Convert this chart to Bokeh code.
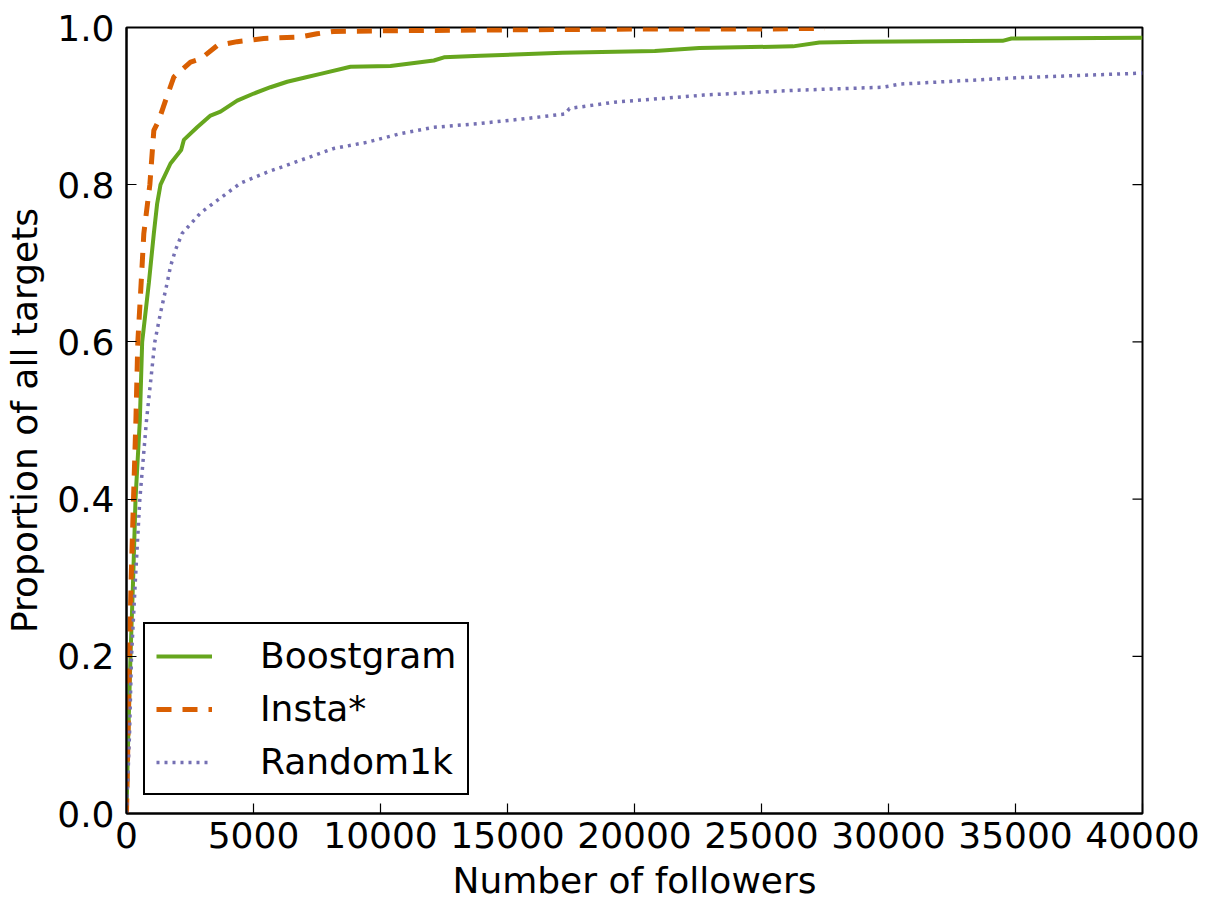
import math
from bokeh.plotting import figure
from bokeh.models import Range1d, FixedTicker, PrintfTickFormatter, Legend, LegendItem
from bokeh.embed import file_html
from bokeh.resources import INLINE

# ---- data ----
boost_x = [0, 70, 157, 263, 355, 525, 617, 880, 1076, 1207, 1339, 1732, 2152, 2257, 2782, 3307, 3700,
           4357, 5013, 5669, 6327, 7114, 7638, 8819, 10394, 12100, 12500, 13937, 17157, 20800, 22550,
           26240, 27280, 29050, 34490, 34840, 40000]
boost_y = [0, 0.1, 0.2, 0.3, 0.4, 0.5, 0.6, 0.675, 0.738, 0.776, 0.8, 0.827, 0.844, 0.857, 0.873, 0.888,
           0.893, 0.907, 0.916, 0.924, 0.931, 0.937, 0.941, 0.950, 0.951, 0.958, 0.962, 0.964, 0.968,
           0.970, 0.974, 0.976, 0.981, 0.982, 0.983, 0.986, 0.987]

insta_x = [0, 60, 118, 184, 276, 370, 446, 577, 682, 919, 1010, 1076, 1273, 1535, 1864, 2060, 2520,
           2913, 3570, 4357, 5400, 6850, 7500, 8150, 10800, 15000, 20000, 25000, 27500]
insta_y = [0, 0.1, 0.2, 0.3, 0.4, 0.5, 0.6, 0.675, 0.738, 0.8, 0.84, 0.869, 0.882, 0.907, 0.937, 0.943,
           0.956, 0.960, 0.977, 0.982, 0.986, 0.988, 0.992, 0.995, 0.996, 0.997, 0.998, 0.998, 0.999]

rand_x = [0, 118, 197, 355, 525, 787, 1115, 1339, 1601, 1732, 1929, 2190, 2913, 3570, 4490, 5538, 6850,
          8150, 9475, 10787, 12100, 13937, 15690, 17270, 17440, 19210, 22720, 26240, 29760, 30460,
          35030, 40000]
rand_y = [0, 0.1, 0.2, 0.3, 0.4, 0.5, 0.6, 0.637, 0.675, 0.696, 0.717, 0.738, 0.764, 0.780, 0.802,
          0.816, 0.831, 0.846, 0.854, 0.865, 0.873, 0.878, 0.884, 0.890, 0.897, 0.905, 0.914, 0.920,
          0.924, 0.928, 0.936, 0.942]

series_names = ["Boostgram", "Insta*", "Random1k"]
x_ticks = [0, 5000, 10000, 15000, 20000, 25000, 30000, 35000, 40000]
y_ticks = [0.0, 0.2, 0.4, 0.6, 0.8, 1.0]
x_label = "Number of followers"
y_label = "Proportion of all targets"
X_MAX = 40000
Y_MAX = 1.0

FONT = "DejaVu Sans"
FS = "36px"

p = figure(width=1207, height=903, output_backend="svg", toolbar_location=None,
           x_range=Range1d(0, X_MAX), y_range=Range1d(0, Y_MAX),
           min_border_left=126, min_border_right=65, min_border_top=27, min_border_bottom=88)
p.background_fill_color = "white"
p.border_fill_color = "white"
p.outline_line_color = "black"
p.outline_line_width = 2
p.xgrid.visible = False
p.ygrid.visible = False

def style_axis(ax, ticks):
    ax.ticker = FixedTicker(ticks=ticks)
    ax.major_tick_in = 10
    ax.major_tick_out = 0
    ax.minor_tick_line_color = None
    ax.major_tick_line_color = "black"
    ax.major_tick_line_width = 1.2
    ax.axis_line_color = "black"
    ax.axis_line_width = 2
    ax.major_label_text_font = FONT
    ax.major_label_text_color = "black"
    ax.major_label_text_font_size = FS
    ax.axis_label_text_font = FONT
    ax.axis_label_text_font_style = "normal"
    ax.axis_label_text_color = "black"
    ax.axis_label_text_font_size = FS

xa = p.xaxis[0]
style_axis(xa, x_ticks)
xa.formatter = PrintfTickFormatter(format="%d")
xa.axis_label = x_label
xa.major_label_standoff = 8
xa.axis_label_standoff = 9

ya = p.yaxis[0]
style_axis(ya, y_ticks)
ya.formatter = PrintfTickFormatter(format="%.1f")
ya.axis_label = y_label
ya.major_label_standoff = 12
ya.axis_label_standoff = 9

# inward ticks on the top and right spines
p.ray(x=x_ticks, y=[Y_MAX] * len(x_ticks), length=10, length_units="screen",
      angle=-math.pi / 2, line_color="black", line_width=1.2)
p.ray(x=[X_MAX] * len(y_ticks), y=y_ticks, length=10, length_units="screen",
      angle=math.pi, line_color="black", line_width=1.2)

r1 = p.line(boost_x, boost_y, line_color="#66a61e", line_width=4)
r2 = p.line(insta_x, insta_y, line_color="#d95f02", line_width=5, line_dash="15 11")
r3 = p.line(rand_x, rand_y, line_color="#7570b3", line_width=3.5, line_dash="3 5")

legend = Legend(items=[LegendItem(label=series_names[0], renderers=[r1]),
                       LegendItem(label=series_names[1], renderers=[r2]),
                       LegendItem(label=series_names[2], renderers=[r3])],
                location=(17, 18))
legend.label_text_font = FONT
legend.label_text_font_size = FS
legend.label_text_color = "black"
legend.border_line_color = "black"
legend.border_line_alpha = 1.0
legend.border_line_width = 2
legend.background_fill_color = "white"
legend.background_fill_alpha = 1.0
legend.glyph_width = 56
legend.glyph_height = 40
legend.label_height = 40
legend.label_standoff = 48
legend.spacing = 12
legend.padding = 11
legend.margin = 0
p.add_layout(legend, "center")

open("out.html", "w").write(file_html(p, INLINE))
